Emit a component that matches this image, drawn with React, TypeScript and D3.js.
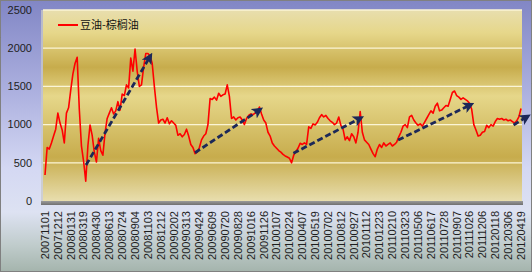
import React from "react";
import * as d3 from "d3";

const xLabels = [
  "20071101","20071212","20080131","20080319","20080430","20080613","20080724","20080904",
  "20081103","20081212","20090202","20090313","20090424","20090609","20090720","20090828",
  "20091016","20091126","20100107","20100224","20100407","20100519","20100702","20100812",
  "20100927","20101112","20101223","20110210","20110323","20110506","20110617","20110728",
  "20110907","20111026","20111206","20120118","20120306","20120419",
];

const yTicks = [0, 500, 1000, 1500, 2000, 2500];

const seriesName = "豆油-棕榈油";

// sampled every 1/6 of a label interval
const spread = [
  340,700,680,760,850,940,1150,1020,930,760,1150,1220,1450,1660,1800,1880,1200,720,520,260,
  720,995,860,640,510,820,660,600,890,1080,1150,1220,1140,1180,1300,1190,1400,1380,1520,1480,
  1870,1700,1990,1700,1500,1520,1750,1930,1930,1900,1800,1500,1230,1020,1060,1070,1020,1090,1010,1050,
  1020,990,860,880,840,870,940,850,740,700,620,640,700,800,850,880,1000,1340,1330,1360,
  1320,1410,1370,1390,1400,1520,1370,1080,1100,1060,1090,1100,1060,1000,1080,1120,1140,1130,1150,1170,
  1230,1140,1060,1020,900,850,760,720,690,660,640,610,590,575,560,500,600,650,690,755,
  740,760,740,970,950,1010,995,1030,1090,1130,1100,1120,1080,1050,1030,1000,1020,1100,990,940,
  800,840,790,880,840,760,900,1170,900,800,770,740,680,620,580,680,740,700,760,720,
  740,760,720,740,770,840,900,980,1000,960,1100,1120,1060,1020,990,1010,980,1030,1080,1130,
  1180,1150,1240,1280,1180,1190,1220,1250,1240,1330,1420,1440,1380,1360,1330,1350,1330,1310,1280,1200,
  1000,930,850,860,900,910,990,960,1000,980,1040,1080,1070,1080,1060,1070,1050,1060,1040,1020,
  1050,1100,1210,
];

// trend arrows: [startIndex, startValue, endIndex, endValue]
const arrowStartIdx = [3.19, 11.66, 19.31, 27.45, 36.42];
const arrowStartVal = [471, 632, 624, 798, 995];
const arrowEndIdx = [8.16, 16.66, 24.49, 33.05, 37.46];
const arrowEndVal = [1889, 1191, 1082, 1257, 1103];

const W = 532;
const H = 272;

export default function App() {
  const plotL = 43, plotR = 522, plotT = 10, plotB = 201;
  const x = d3.scaleLinear().domain([0, xLabels.length - 1]).range([45, 521]);
  const y = d3.scaleLinear().domain([0, 2500]).range([plotB, plotT]);
  const step = 1 / 6;
  const line = d3
    .line<number>()
    .x((_, i) => x(i * step))
    .y((d) => y(d));

  return (
    <svg
      width={W}
      height={H}
      style={{ position: "absolute", left: 0, top: 0, display: "block" }}
      fontFamily="'Liberation Sans', Arial, sans-serif"
    >
      <defs>
        <linearGradient id="bg" x1="0" y1="0" x2="0" y2="1">
          <stop offset="0" stopColor="#8186c5" />
          <stop offset="0.35" stopColor="#aeb2e0" />
          <stop offset="0.62" stopColor="#d4d8f3" />
          <stop offset="0.78" stopColor="#dde2f2" />
          <stop offset="0.9" stopColor="#c0cccc" />
          <stop offset="1" stopColor="#a4b4ac" />
        </linearGradient>
        <linearGradient id="gold" x1="0" y1="0" x2="0" y2="1">
          <stop offset="0" stopColor="#e8deae" />
          <stop offset="0.12" stopColor="#e6d78a" />
          <stop offset="0.3" stopColor="#c7ac4c" />
          <stop offset="0.45" stopColor="#e6d78a" />
          <stop offset="0.77" stopColor="#c7ac4c" />
          <stop offset="1" stopColor="#e8deae" />
        </linearGradient>
        <linearGradient id="floor" x1="0" y1="0" x2="0" y2="1">
          <stop offset="0" stopColor="#9a9a9a" />
          <stop offset="1" stopColor="#707070" />
        </linearGradient>
        <marker
          id="ah"
          viewBox="0 0 10 10"
          refX="6"
          refY="5"
          markerWidth="4"
          markerHeight="4"
          orient="auto"
          markerUnits="strokeWidth"
        >
          <path d="M0,0 L10,5 L0,10 L2.5,5 Z" fill="#1c2858" />
        </marker>
      </defs>
      <rect x={0} y={0} width={W} height={H} fill="url(#bg)" />

      {/* plot area */}
      <rect x={plotL} y={plotT} width={plotR - plotL} height={plotB - plotT} fill="url(#gold)" />
      <line x1={plotL - 1} x2={plotL - 1} y1={plotT} y2={plotB + 3} stroke="#c9c9c9" strokeWidth={1.5} />
      <rect x={plotL - 2} y={plotB} width={plotR - plotL + 3} height={4} fill="url(#floor)" />

      {yTicks.map((t) => (
        <g key={t}>
          {t > 0 && (
            <line
              x1={plotL}
              x2={plotR}
              y1={y(t)}
              y2={y(t)}
              stroke="#fbf5d6"
              strokeWidth={1.3}
            />
          )}
          <text
            x={32}
            y={y(t)}
            dy="0.35em"
            textAnchor="end"
            fontSize={11}
            fill="#1e1e1e"
          >
            {t}
          </text>
        </g>
      ))}

      {xLabels.map((l, i) => (
        <text
          key={l}
          transform={`translate(${x(i)},${211}) rotate(-90)`}
          dy="0.35em"
          textAnchor="end"
          fontSize={11}
          fill="#1e1e1e"
        >
          {l}
        </text>
      ))}

      <path d={line(spread) ?? ""} fill="none" stroke="#ff0000" strokeWidth={1.6} strokeLinejoin="round" />

      {arrowStartIdx.map((s, i) => (
        <line
          key={i}
          x1={x(s)}
          y1={y(arrowStartVal[i])}
          x2={x(arrowEndIdx[i])}
          y2={y(arrowEndVal[i])}
          stroke="#1c2858"
          strokeWidth={2.8}
          strokeDasharray="6,3"
          markerEnd="url(#ah)"
        />
      ))}

      {/* legend */}
      <line x1={58} x2={78} y1={25} y2={25} stroke="#ff0000" strokeWidth={2} />
      <text
        x={80}
        y={25}
        dy="0.35em"
        fontSize={11}
        fill="#111"
        fontFamily="'Noto Sans CJK SC', 'Liberation Sans', sans-serif"
      >
        {seriesName}
      </text>

      <rect x={0.5} y={0.5} width={W - 1} height={H - 1} fill="none" stroke="#ffffff" strokeWidth={1} />
      <rect
        x={0.5}
        y={0.5}
        width={W - 1}
        height={H - 1}
        fill="none"
        stroke="#000000"
        strokeWidth={1}
        strokeDasharray="1,1"
      />
    </svg>
  );
}
